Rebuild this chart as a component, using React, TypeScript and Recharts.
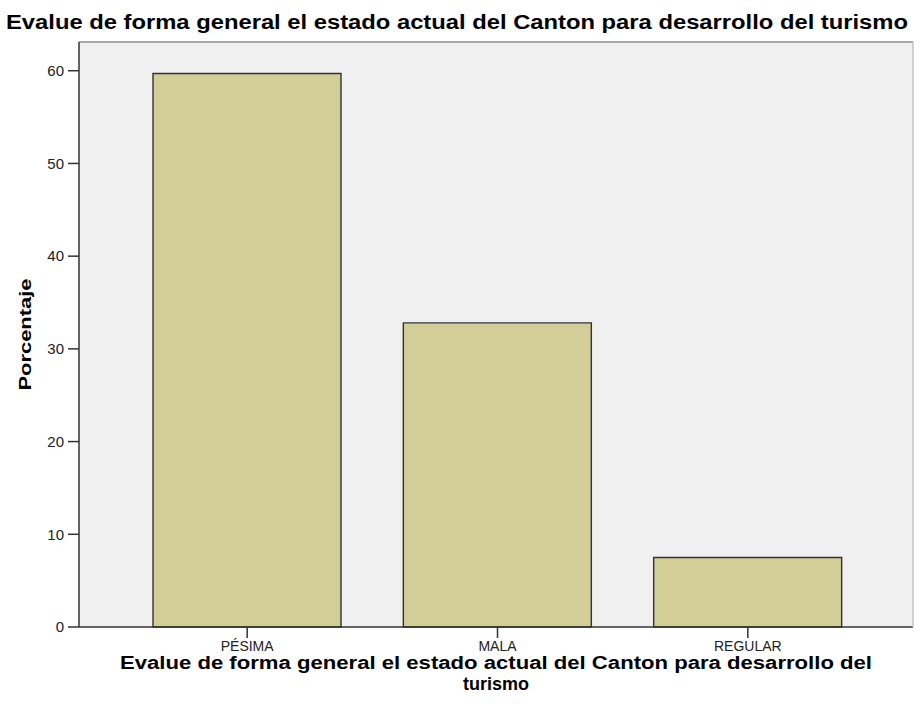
import React from "react";
import { BarChart, Bar, XAxis, YAxis, CartesianGrid, Label } from "recharts";

const categories = ["PÉSIMA", "MALA", "REGULAR"];
const percentages = [59.7, 32.8, 7.5];
const yTicks = [0, 10, 20, 30, 40, 50, 60];

const TITLE = "Evalue de forma general el estado actual del Canton para desarrollo del turismo";
const X_TITLE_LINES = [
  "Evalue de forma general el estado actual del Canton para desarrollo del",
  "turismo",
];
const Y_TITLE = "Porcentaje";

const CHART_W = 914;
const CHART_H = 717;
const BAR_FILL = "#d3ce97";
const AXIS_COLOR = "#333333";
const FRAME_COLOR = "#a8a8a8";
const FONT = "'Liberation Sans', Arial, sans-serif";
const TICK_FONT = "'Liberation Sans', Arial, sans-serif";

const data = categories.map((name, i) => ({ name, value: percentages[i] }));

function TitleLabel({ viewBox }: any) {
  return (
    <text
      x={CHART_W / 2}
      y={viewBox.y - 12}
      textAnchor="middle"
      fontFamily={FONT}
      fontWeight="bold"
      fontSize={20}
      textLength={902}
      lengthAdjust="spacingAndGlyphs"
      fill="#000"
    >
      {TITLE}
    </text>
  );
}

function XTitleLabel({ viewBox }: any) {
  const cx = viewBox.x + viewBox.width / 2;
  return (
    <text textAnchor="middle" fontFamily={FONT} fontWeight="bold" fontSize={18} fill="#000">
      <tspan x={cx} y={viewBox.y + 42} textLength={752} lengthAdjust="spacingAndGlyphs">
        {X_TITLE_LINES[0]}
      </tspan>
      <tspan x={cx} y={viewBox.y + 63}>
        {X_TITLE_LINES[1]}
      </tspan>
    </text>
  );
}

function YTitleLabel({ viewBox }: any) {
  const cx = 25;
  const cy = viewBox.y + viewBox.height / 2;
  return (
    <text
      x={cx}
      y={cy}
      transform={`rotate(-90 ${cx} ${cy})`}
      textAnchor="middle"
      dominantBaseline="central"
      fontFamily={FONT}
      fontWeight="bold"
      fontSize={17}
      textLength={112}
      lengthAdjust="spacingAndGlyphs"
      fill="#000"
    >
      {Y_TITLE}
    </text>
  );
}

export default function App() {
  return (
    <div style={{ position: "absolute", left: 0, top: 0, width: CHART_W, height: CHART_H, background: "#fff" }}>
      <BarChart
        width={CHART_W}
        height={CHART_H}
        data={data}
        margin={{ top: 41, right: 0, bottom: 0, left: 0 }}
      >
        <CartesianGrid horizontal={false} vertical={false} fill="#f0f0f0" stroke="none" />
        <XAxis
          dataKey="name"
          interval={0}
          height={90}
          padding={{ left: 43, right: 40 }}
          tickSize={11}
          tickMargin={3}
          tickLine={{ stroke: AXIS_COLOR, strokeWidth: 1.5 }}
          axisLine={{ stroke: AXIS_COLOR, strokeWidth: 1.5 }}
          tick={{ fill: "#222", fontSize: 14, fontFamily: TICK_FONT }}
        >
          <Label content={<XTitleLabel />} />
        </XAxis>
        <XAxis
          xAxisId="top"
          dataKey="name"
          orientation="top"
          height={1}
          tick={false}
          tickLine={false}
          axisLine={{ stroke: FRAME_COLOR, strokeWidth: 2 }}
        >
          <Label content={<TitleLabel />} />
        </XAxis>
        <YAxis
          width={79}
          domain={[0, 63.1]}
          ticks={yTicks}
          interval={0}
          tickSize={11}
          tickMargin={4}
          tickLine={{ stroke: AXIS_COLOR, strokeWidth: 1.5 }}
          axisLine={{ stroke: AXIS_COLOR, strokeWidth: 1.5 }}
          tick={{ fill: "#222", fontSize: 15, fontFamily: TICK_FONT }}
        >
          <Label content={<YTitleLabel />} />
        </YAxis>
        <YAxis
          yAxisId="right"
          orientation="right"
          width={1}
          domain={[0, 63.1]}
          tick={false}
          tickLine={false}
          axisLine={{ stroke: "#c4c4c4", strokeWidth: 1.5 }}
        />
        <Bar
          dataKey="value"
          fill={BAR_FILL}
          stroke={AXIS_COLOR}
          strokeWidth={1.4}
          barSize={188}
          isAnimationActive={false}
        />
      </BarChart>
    </div>
  );
}
